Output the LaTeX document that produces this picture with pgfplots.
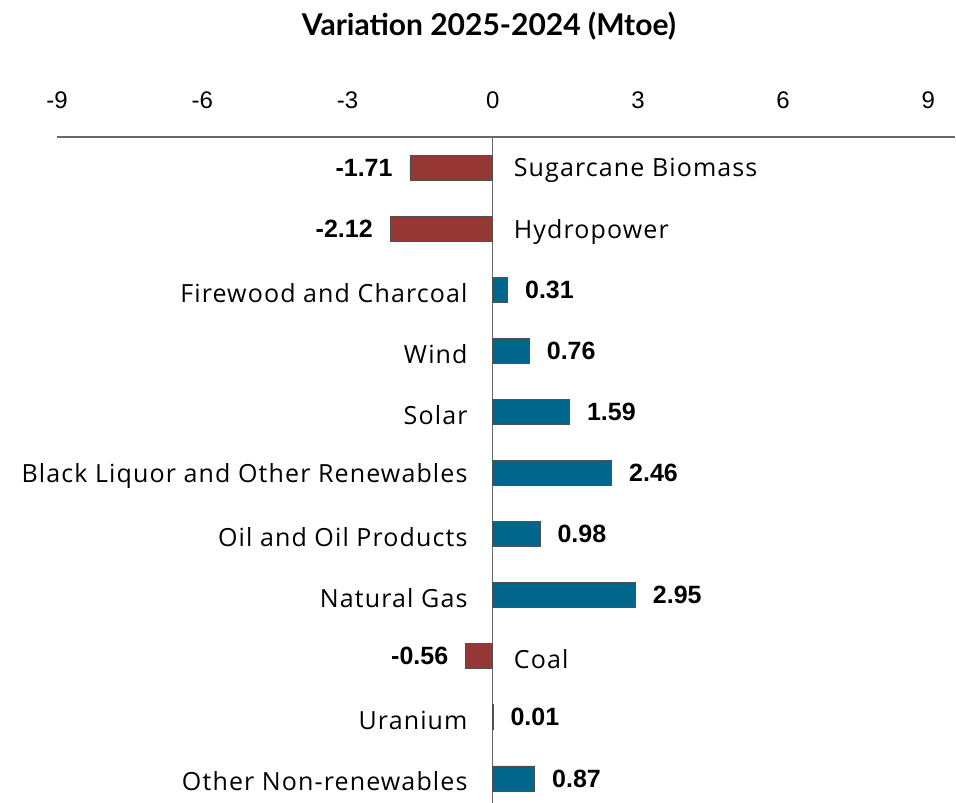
\documentclass[border=0pt]{standalone}
\usepackage{pgfplots}
\pgfplotsset{compat=1.18}
\usepackage{pgfplotstable}
\usepackage{fontspec}
\setmainfont{Liberation Sans}
\newfontfamily\catfont[LetterSpace=4.5]{Open Sans}
\newfontfamily\titlefont{Lato}

\definecolor{negred}{RGB}{149,55,53}
\definecolor{posblue}{RGB}{0,102,140}
\definecolor{edgegray}{RGB}{80,80,80}
\definecolor{axgray}{RGB}{105,105,105}

\pgfplotsset{
    posval/.style={nodes near coords style={anchor=west, inner sep=0pt, xshift=17pt, text=black, font=\bfseries\fontsize{25}{30}\selectfont}},
    negval/.style={nodes near coords style={anchor=east, inner sep=0pt, xshift=-17pt, text=black, font=\bfseries\fontsize{25}{30}\selectfont}},
    leftname/.style={nodes near coords style={anchor=east, inner sep=0pt, xshift=-25pt, yshift=-3pt, text=black, font=\catfont\fontsize{25}{30}\selectfont}},
    rightname/.style={nodes near coords style={anchor=west, inner sep=0pt, xshift=21pt, yshift=-3pt, text=black, font=\catfont\fontsize{25}{30}\selectfont}},
}

% categories top to bottom: 0 = Sugarcane Biomass ... 10 = Other Non-renewables
\pgfplotstableread[col sep=comma]{
y,val,name
2,0.31,Firewood and Charcoal
3,0.76,Wind
4,1.59,Solar
5,2.46,Black Liquor and Other Renewables
6,0.98,Oil and Oil Products
7,2.95,Natural Gas
9,0.01,Uranium
10,0.87,Other Non-renewables
}\postable
\pgfplotstableread[col sep=comma]{
y,val,name
0,-1.71,Sugarcane Biomass
1,-2.12,Hydropower
8,-0.56,Coal
}\negtable

\begin{document}
\begin{tikzpicture}
\useasboundingbox (-57pt,6pt) rectangle (899pt,809pt);
\begin{axis}[
    at={(0,0)}, anchor=south west,
    scale only axis,
    width=898pt, height=672pt,
    xmin=-9, xmax=9.55,
    ymin=-0.5, ymax=10.5,
    y dir=reverse,
    axis x line*=top,
    axis y line=none,
    xtick={-9,-6,-3,0,3,6,9},
    xticklabels={-9,-6,-3,0,3,6,9},
    major tick length=0pt,
    x axis line style={draw=axgray, line width=1.5pt},
    xticklabel style={font=\fontsize{24}{28}\selectfont, anchor=south, inner sep=0pt, yshift=28pt},
    extra x ticks={0},
    extra x tick labels={},
    extra x tick style={grid=major, major grid style={draw=axgray, line width=1.5pt}},
    title={Variation 2025-2024 (Mtoe)},
    title style={font=\titlefont\bfseries\fontsize{30}{36}\selectfont, at={(0.481,1)}, anchor=base, yshift=95pt},
    clip=false,
]
% bars
\addplot[xbar, bar width=25pt, bar shift=0pt, fill=posblue, draw=edgegray, line width=0.8pt,
    point meta=x, posval,
    nodes near coords={\pgfmathprintnumber[fixed,fixed zerofill,precision=2,assume math mode=true]{\pgfplotspointmeta}}]
    table[x=val, y=y] {\postable};
\addplot[xbar, bar width=25pt, bar shift=0pt, fill=negred, draw=edgegray, line width=0.8pt,
    point meta=x, negval,
    nodes near coords={\pgfmathprintnumber[fixed,fixed zerofill,precision=2,assume math mode=true]{\pgfplotspointmeta}}]
    table[x=val, y=y] {\negtable};
% category names beside the zero line
\addplot[draw=none, mark=none, point meta=explicit symbolic, leftname, nodes near coords]
    table[x expr=0, y=y, meta=name] {\postable};
\addplot[draw=none, mark=none, point meta=explicit symbolic, rightname, nodes near coords]
    table[x expr=0, y=y, meta=name] {\negtable};
\end{axis}
\end{tikzpicture}
\end{document}
